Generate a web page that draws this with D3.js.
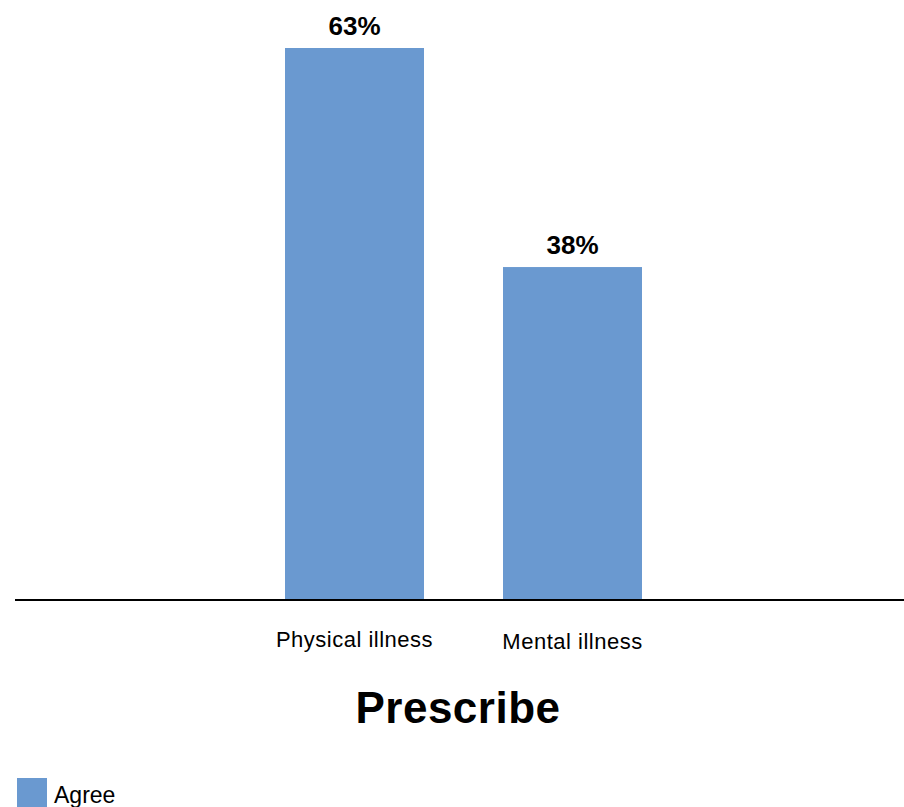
<!DOCTYPE html>
<html>
<head>
<meta charset="utf-8">
<script src="https://cdn.jsdelivr.net/npm/d3@7"></script>
<style>
  html, body { margin: 0; padding: 0; background: #fff; }
  svg { display: block; font-family: "Liberation Sans", Arial, Helvetica, sans-serif; }
</style>
</head>
<body>
<svg id="chart" width="904" height="807"></svg>
<script>
// Share of respondents who agree, by illness type
const categories = ["Physical illness", "Mental illness"];
const agreeValues = [63, 38];
const seriesName = "Agree";
const chartTitle = "Prescribe";

const svg = d3.select("#chart");
const W = 904, H = 807;
const barColor = "#6a99d0";

const baseline = 600;
const x = d3.scaleBand()
  .domain(categories)
  .range([285, 642])
  .paddingInner(79 / 218)
  .paddingOuter(0);

// y scale: 0 at baseline, 63% reaches y=48
const y = d3.scaleLinear().domain([0, 63]).range([baseline, 48]);

// bars
svg.selectAll("rect.bar")
  .data(categories)
  .join("rect")
  .attr("class", "bar")
  .attr("x", d => x(d))
  .attr("width", x.bandwidth())
  .attr("y", (d, i) => y(agreeValues[i]))
  .attr("height", (d, i) => baseline - y(agreeValues[i]))
  .attr("fill", barColor);

// value labels
svg.selectAll("text.val")
  .data(categories)
  .join("text")
  .attr("class", "val")
  .attr("x", d => x(d) + x.bandwidth() / 2)
  .attr("y", (d, i) => y(agreeValues[i]) - 13)
  .attr("text-anchor", "middle")
  .attr("font-size", 26)
  .attr("font-weight", "bold")
  .attr("fill", "#000")
  .text((d, i) => agreeValues[i] + "%");

// x axis line
svg.append("line")
  .attr("x1", 15).attr("x2", W)
  .attr("y1", baseline).attr("y2", baseline)
  .attr("stroke", "#000").attr("stroke-width", 2);

// category labels
const catY = [647, 649];
svg.selectAll("text.cat")
  .data(categories)
  .join("text")
  .attr("class", "cat")
  .attr("x", d => x(d) + x.bandwidth() / 2)
  .attr("y", (d, i) => catY[i])
  .attr("text-anchor", "middle")
  .attr("font-size", 22)
  .attr("letter-spacing", 0.5)
  .attr("fill", "#000")
  .text(d => d);

// title
svg.append("text")
  .attr("x", 458)
  .attr("y", 723)
  .attr("text-anchor", "middle")
  .attr("font-size", 44)
  .attr("font-weight", "bold")
  .attr("letter-spacing", 0.5)
  .attr("fill", "#000")
  .text(chartTitle);

// legend
const legend = svg.append("g").attr("transform", "translate(17,778)");
legend.append("rect")
  .attr("width", 30).attr("height", 30)
  .attr("fill", barColor);
legend.append("text")
  .attr("x", 37).attr("y", 25)
  .attr("font-size", 23)
  .attr("fill", "#000")
  .text(seriesName);
</script>
</body>
</html>
